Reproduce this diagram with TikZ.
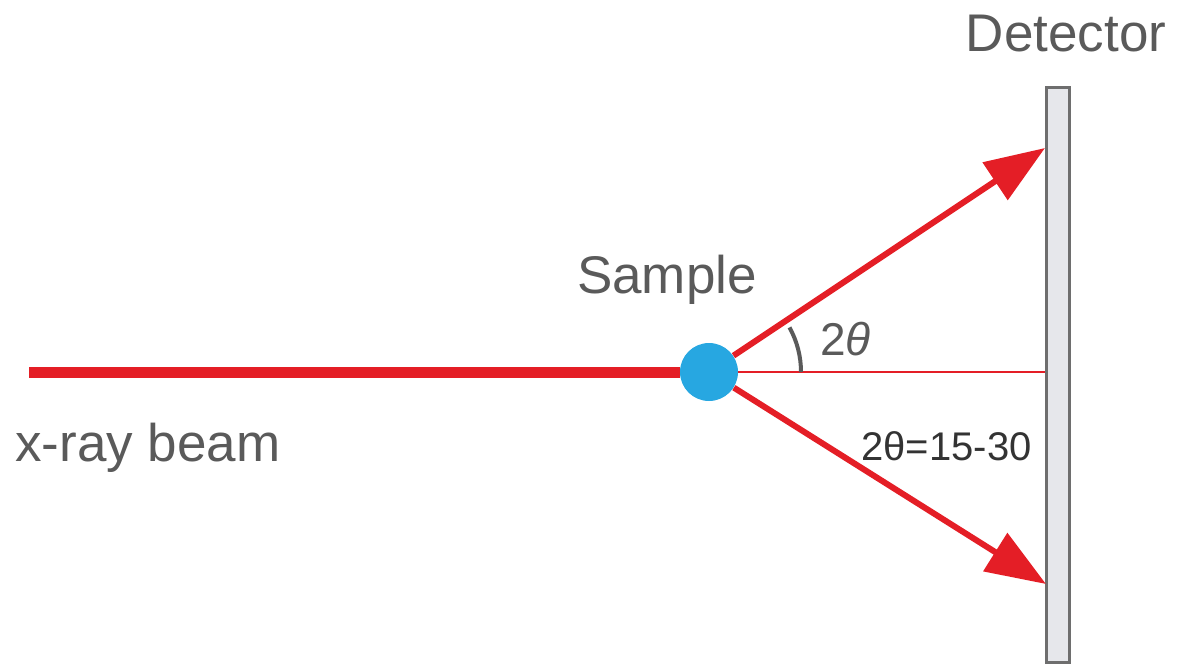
\documentclass[tikz,border=0pt]{standalone}
\usepackage{fontspec}
\setmainfont{Liberation Sans}
\usepackage{tikz}
\usetikzlibrary{arrows.meta}

\definecolor{rayred}{HTML}{E41E26}
\definecolor{samplblue}{HTML}{27A7E1}
\definecolor{labelgray}{HTML}{5A5A5A}
\definecolor{detfill}{HTML}{E6E7EB}
\definecolor{detdraw}{HTML}{6E6E6E}

\begin{document}
\begin{tikzpicture}[x=0.5pt, y=-0.5pt,
        label/.style = {text=labelgray, inner sep=0pt, font=\fontsize{26.5}{30}\selectfont},
        ray/.style = {color=rayred, line width=3pt},
        hit/.style = {ray, -{Triangle[length=30pt, width=22pt]}}]
            \useasboundingbox (0,0) rectangle (1179,665);

            \node[draw=detdraw, fill=detfill, line width=1.5pt, minimum width=11.5pt, minimum height=287.5pt, inner sep=0pt] (detector) at (1057.5,374.5) {};
            \node[circle, fill=samplblue, minimum size=29pt, inner sep=0pt] (sample) at (709,372) {};
            \coordinate (beamstart) at (29,372);
            \coordinate (hitup) at (1045,148);
            \coordinate (hitdown) at (1046,584);

            \node[label] (detlabel) at (1066,34) {Detector};
            \node[label, anchor=base] (samplelabel) at (667,293) {Sample};
            \node[label, anchor=base west] (beamlabel) at (15,461) {x-ray beam};
            \node[label, anchor=base west, font=\fontsize{23}{26}\selectfont] (anglelabel) at (820,355) {2\textit{θ}};
            \node[anchor=base west, inner sep=0pt, text=black!80, font=\fontsize{20}{24}\selectfont] (rangelabel) at (861,460) {2θ=15-30};

            \draw[ray, line width=5.5pt] (beamstart) -- (sample);
            \draw[ray, line width=1pt] (sample.east) -- (sample.east -| detector.west);
            \path[hit] (sample) edge (hitup);
            \path[hit] (sample) edge (hitdown);

            \draw[labelgray, line width=2pt] ([shift={(0:92)}]sample.center) arc[start angle=0, end angle=29, radius=46pt];

        \end{tikzpicture}
\end{document}
